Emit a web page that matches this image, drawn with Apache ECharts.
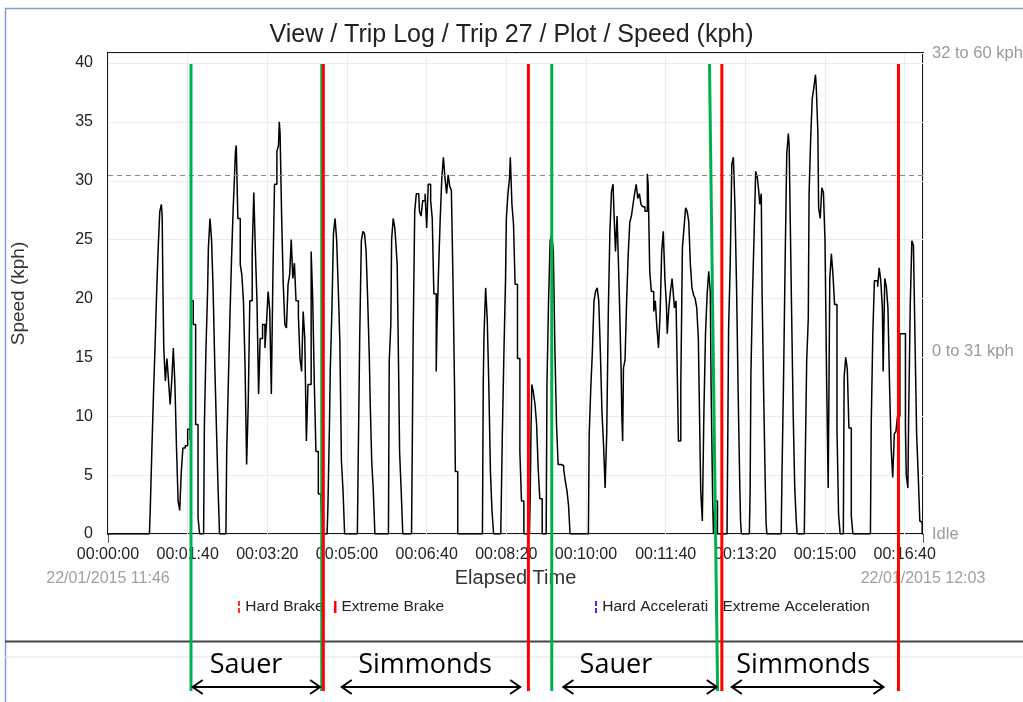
<!DOCTYPE html>
<html>
<head>
<meta charset="utf-8">
<title>Trip 27 speed</title>
<script src="https://cdn.jsdelivr.net/npm/echarts@6/dist/echarts.min.js"></script>
<style>
  html, body { margin: 0; padding: 0; background: #fff; }
  #chart { width: 1023px; height: 702px; }
</style>
</head>
<body>
<div id="chart"></div>
<script>
// elapsed seconds / speed in kph
const speedTrace = [
  [0,0],[52,0],[53,2],[55,7],[57,11.7],[59,15.8],[61,20.4],[63,24.3],[65,27.4],[67,28],[68,27],[69,20.6],[70,15.8],[72,13],[74,14.9],[76,13],[78,11],[80,13],[82,15.8],[84,12.7],[86,7.3],[88,2.8],[90,2],[92,5.3],[94,7.3],[97,7.5],[100,8.9],[103,8],[104,19.8],[107,17.8],[110,9.3],[113,1.4],[115,0],
  [120,0],[121,9.3],[123,15.8],[125,20.6],[126,24.3],[128,26.8],[130,25],[132,20.6],[134,14.4],[136,9.3],[138,4.2],[140,0],
  [148,0],[149,7],[151,12.7],[153,18.3],[155,23.2],[157,27.4],[159,30.8],[160,32.5],[161,33],[163,26.8],[166,22.9],[168,22],[170,19.8],[172,14.4],[174,5.9],[176,11],[178,19.8],[181,24],[183,29],[185,24],[187,19.8],[189,11.9],[191,16.6],[194,17.8],[197,15.8],[199,18],[201,20.6],[203,19],[205,11.9],[207,22],[209,29.7],[212,32.5],[214,33],[215,35],[216,34],[218,26.8],[220,21.2],[222,17.8],[224,17.5],[226,21.2],[228,22],[230,25],[232,21.7],[234,23],[236,19.8],[239,18.5],[241,14.9],[243,13.8],[245,18.9],[247,16.6],[249,7.9],[251,12.7],[255,24],[257,19.8],[259,12.7],[261,7],[264,3.4],[267,3.4],[269,0],
  [275,0],[276,2.2],[278,9.3],[279,14],[281,18.9],[283,25.5],[285,26.8],[287,25],[289,20.9],[291,16.4],[293,6.2],[295,3.7],[297,0],
  [313,0],[314,6],[315,11.3],[316,17],[318,24.9],[320,25.7],[322,25.5],[324,24],[326,19.8],[328,15],[329,11.5],[331,6.2],[333,3.7],[335,0],
  [352,0],[353,14.7],[355,17.8],[356,25],[358,26.8],[360,26],[361,25],[363,22.9],[365,12.7],[366,7],[368,3.7],[370,0],
  [381,0],[382,8],[383,16.6],[385,27.4],[387,28.9],[390,28.9],[391,27.4],[393,27],[395,28.3],[398,28.9],[400,26],[402,29.7],[404,29.7],[405,28.3],[407,26.8],[409,20.4],[412,13.8],[413,17.8],[415,22.6],[417,26.8],[419,30.2],[421,32],[423,30.2],[425,28.9],[427,30.5],[429,29.5],[431,29.2],[433,21.7],[435,12.4],[436,5.3],[439,0],
  [470,0],[471,12.7],[472,17],[474,20.9],[476,18.3],[478,12.7],[480,5.3],[482,2],[484,0],
  [493,0],[495,8.5],[497,15.5],[499,21.7],[500,26.8],[502,28.9],[504,30.2],[505,32],[507,28],[509,26.3],[511,21.2],[514,14.9],[517,7],[519,2.8],[522,0],
  [529,0],[530,3.4],[531,9],[532,12.7],[534,12],[536,11],[538,9.3],[540,5.5],[542,3],[545,0],
  [550,0],[551,12.7],[553,19.8],[555,24.9],[557,25.5],[559,24],[561,15.5],[563,9.3],[565,5.9],[569,5.8],[572,5.5],[574,4.5],[576,3.7],[578,2.5],[580,0],
  [603,0],[604,8.5],[606,12.4],[608,15.5],[610,19.8],[612,20.6],[614,20.9],[616,19.8],[618,15.5],[620,10.4],[622,7.6],[624,3.9],
  [626,8.5],[628,18.9],[630,25.7],[632,29.1],[634,29.7],[635,27.5],[637,24],[639,27],[641,22.3],[642,19.8],[644,14.1],[645,9.9],[646,7.9],[647,14.1],[649,14.8],[651,19.8],[653,23.8],[655,26.5],[657,27],[659,28],[661,28.9],[663,29.7],[665,28.5],[667,28.9],[669,28],[671,27.8],[674,27.4],
  [677,30.6],[678,29.7],[680,22.3],[682,20.6],[685,18.9],[687,19.8],[689,17.5],[691,15.8],[693,18.7],[695,24],[697,25.7],[699,21.7],[701,19.4],[702,17],[704,19.2],[706,20.6],[708,21.7],[709,20.9],[711,19.2],[713,19.8],[715,11.9],[716,7.9],
  [719,12.7],[721,24.3],[723,26],[725,27.7],[727,27.4],[729,26.5],[731,22.9],[733,20.9],[735,20.3],[737,20],[739,19.2],[741,16.6],[743,7.9],[744,3.7],[746,1.1],[748,10.4],[750,17],[752,20.3],[754,22.3],[756,20.6],[757,12.7],[759,2.8],[760,0],[762,2.8],[764,2.8],[765,0],
  [777,0],[778,8.5],[779,17.5],[781,22.9],[783,31.4],[785,32],[787,27.7],[789,20.9],[791,11.9],[793,4.2],[794,1.1],[795,0],
  [805,0],[806,3.7],[807,13.6],[809,20.4],[811,25.5],[813,30.8],[815,30.3],[817,29],[818,28],[820,28.9],[821,20.6],[823,11.9],[825,4.2],[826,1],[827,0],
  [845,0],[846,5.1],[848,13.3],[850,23.4],[852,32.3],[854,34],[855,33],[856,28.3],[858,19.2],[860,10.4],[862,3.9],[864,1],[865,0],
  [874,0],[875,5.3],[877,14.7],[879,18.3],[880,28.9],[882,33.6],[884,37],[886,37.9],[888,39],[889,38],[891,34.2],[892,27.7],[894,26.8],[896,29.4],[898,29],[900,24.9],[902,13.3],[904,3.9],[906,21.7],[908,23.8],[910,22],[912,19.5],[915,9],[917,1.7],[919,0],[923,0],[924,13.3],[926,15],[928,14],[930,9],[933,1.5],[935,0],
  [957,0],[958,9.3],[960,17],[962,21.5],[964,21.5],[966,21],[968,22.6],[970,21.5],[972,19.2],[973,13.8],[975,21.7],[977,21],[979,19.2],[981,12.7],[983,7.3],[985,4.8],[987,8.5],[989,8.7],[991,10],[994,17],[997,17],[999,17],[1001,9],[1002,5],[1004,3.9],[1005,10],[1007,19.5],[1009,24.9],[1011,24.5],[1013,16.4],[1015,8.5],[1017,5],[1019,1.1],[1021,1],[1022,0],[1023,0]
];

const tickLabels = ['00:00:00','00:01:40','00:03:20','00:05:00','00:06:40','00:08:20','00:10:00','00:11:40','00:13:20','00:15:00','00:16:40'];
const tripStart = '22/01/2015 11:46';
const tripEnd = '22/01/2015 12:03';
const tripLength = 1023; // seconds
const bandTicks = [0, 15.5, 40.85];
const bandLabels = ['Idle', '0 to 31 kph', '32 to 60 kph'];
const thresholdKph = 30.5;

// driver change markers (seconds at top / bottom of the drawn line)
const markerTop    = [104.2, 268.3, 270.3, 527.7, 557, 755, 770.5, 992.2];
const markerBottom = [104.2, 268.3, 270.3, 527.7, 557, 765.2, 770.5, 992.2];
const markerKind   = ['start','start','end','end','start','start','end','end'];

// driver spans under the chart
const spanFrom    = [106.3, 293.4, 571.6, 783];
const spanTo      = [266.2, 517.3, 764.2, 973.4];
const spanLabelAt = [173.3, 398, 637.5, 872.6];
const spanDriver  = ['Sauer', 'Simmonds', 'Sauer', 'Simmonds'];

const FONT = 'Liberation Sans';

function renderMarker(params, api) {
  const i = params.dataIndex;
  const top = api.coord([markerTop[i], 1]);
  const bottom = api.coord([markerBottom[i], 0]);
  return {
    type: 'line',
    shape: { x1: top[0], y1: top[1], x2: bottom[0], y2: bottom[1] },
    style: { stroke: markerKind[i] === 'end' ? '#ff0000' : '#00b050', lineWidth: 3 }
  };
}

function renderSpan(params, api) {
  const i = params.dataIndex;
  const a = api.coord([spanFrom[i], 0]);
  const b = api.coord([spanTo[i], 0]);
  const c = api.coord([spanLabelAt[i], 0]);
  const y = a[1] - 4;
  const head = 10, half = 7;
  const pen = { stroke: '#000', lineWidth: 2, fill: null };
  return {
    type: 'group',
    children: [
      { type: 'line', shape: { x1: a[0], y1: y, x2: b[0], y2: y }, style: pen },
      { type: 'polyline', shape: { points: [[a[0] + head, y - half], [a[0], y], [a[0] + head, y + half]] }, style: pen },
      { type: 'polyline', shape: { points: [[b[0] - head, y - half], [b[0], y], [b[0] - head, y + half]] }, style: pen },
      { type: 'text', style: { text: spanDriver[i], x: c[0], y: y - 22, align: 'center', verticalAlign: 'middle',
        fontFamily: 'Open Sans', fontSize: 27, fill: '#000' } }
    ]
  };
}

const legendText = { fontFamily: FONT, fontSize: 15.5, color: '#222' };
const dashIcon = 'path://M0,0h2v5h-2zM0,7h2v5h-2z';

const option = {
  animation: false,
  title: {
    text: 'View / Trip Log / Trip 27 / Plot / Speed (kph)',
    left: 'center', top: 18,
    textStyle: { fontFamily: FONT, fontSize: 25, fontWeight: 'normal', color: '#222' }
  },
  legend: [
    { left: 233, top: 594, itemWidth: 2.5, itemHeight: 12, selectedMode: false, textStyle: legendText,
      data: [{ name: 'Hard Brake', icon: dashIcon }] },
    { left: 329, top: 594, itemWidth: 2.5, itemHeight: 12, selectedMode: false, textStyle: legendText,
      data: [{ name: 'Extreme Brake', icon: 'rect' }] },
    { left: 590, top: 594, itemWidth: 2.5, itemHeight: 12, selectedMode: false,
      textStyle: Object.assign({ width: 114, overflow: 'truncate', ellipsis: '' }, legendText),
      data: [{ name: 'Hard Acceleration', icon: dashIcon }] },
    { left: 710, top: 594, itemWidth: 2.5, itemHeight: 12, selectedMode: false, textStyle: legendText,
      data: [{ name: 'Extreme Acceleration', icon: 'rect' }] }
  ],
  grid: [
    { left: 108, right: 100, top: 53, bottom: 168, show: true, borderColor: '#1a1a1a', borderWidth: 2,
      containLabel: false, outerBoundsMode: 'none' },
    { left: 108, right: 100, top: 64, bottom: 11, containLabel: false, outerBoundsMode: 'none' }
  ],
  xAxis: [
    { gridIndex: 0, type: 'value', min: 0, max: tripLength, interval: 100,
      axisLine: { show: false }, axisTick: { show: false },
      splitLine: { show: true, lineStyle: { color: '#e9eef6', width: 1 } },
      axisLabel: { formatter: v => (v % 100 === 0 ? tickLabels[v / 100] : ''), color: '#222',
        fontFamily: FONT, fontSize: 16, margin: 13 },
      name: 'Elapsed Time', nameLocation: 'middle', nameGap: 34,
      nameTextStyle: { fontFamily: FONT, fontSize: 20, color: '#333' } },
    { gridIndex: 0, type: 'value', min: 0, max: tripLength, interval: tripLength, position: 'bottom',
      axisLine: { show: false }, axisTick: { show: true, length: 9, lineStyle: { color: '#555' } },
      splitLine: { show: false },
      axisLabel: { formatter: v => (v === 0 ? tripStart : (v === tripLength ? tripEnd : '')),
        color: '#a0a0a0', fontFamily: FONT, fontSize: 16, margin: 37 } },
    { gridIndex: 1, type: 'value', min: 0, max: tripLength, show: false }
  ],
  yAxis: [
    { gridIndex: 0, type: 'value', min: 0, max: 40.85, interval: 5,
      axisLine: { show: false }, axisTick: { show: false },
      splitLine: { show: true, lineStyle: { color: '#e9eef6', width: 1 } },
      axisLabel: { formatter: v => (v % 5 === 0 ? String(v) : ''), color: '#222',
        fontFamily: FONT, fontSize: 16, margin: 15 },
      name: 'Speed (kph)', nameLocation: 'middle', nameGap: 80,
      nameTextStyle: { fontFamily: FONT, fontSize: 19, color: '#333' } },
    { gridIndex: 0, type: 'value', position: 'right', min: 0, max: 40.85, interval: 15.5,
      axisLine: { show: false }, axisTick: { show: false }, splitLine: { show: false },
      axisLabel: { color: '#9a9a9a', fontFamily: FONT, fontSize: 16.5, margin: 9,
        formatter: v => {
          const k = bandTicks.findIndex(b => Math.abs(b - v) < 0.01);
          return k < 0 ? '' : bandLabels[k];
        } } },
    { gridIndex: 1, type: 'value', min: 0, max: 1, show: false }
  ],
  graphic: [
    { type: 'line', z: 0, shape: { x1: 5, y1: 8.5, x2: 1023, y2: 8.5 }, style: { stroke: '#7f9fd6', lineWidth: 1.5 } },
    { type: 'line', z: 0, shape: { x1: 5.5, y1: 8, x2: 5.5, y2: 702 }, style: { stroke: '#7f9fd6', lineWidth: 1.5 } },
    { type: 'line', z: 0, shape: { x1: 5, y1: 641.5, x2: 1023, y2: 641.5 }, style: { stroke: '#444', lineWidth: 2 } },
    { type: 'line', z: 0, shape: { x1: 5, y1: 657, x2: 1023, y2: 657 }, style: { stroke: '#e2e2e2', lineWidth: 1 } }
  ],
  series: [
    { name: 'Speed', type: 'line', xAxisIndex: 0, yAxisIndex: 0, data: speedTrace, step: 'end',
      showSymbol: false, symbol: 'none', lineStyle: { color: '#000', width: 1.5 },
      markLine: { silent: true, symbol: 'none', label: { show: false },
        lineStyle: { color: '#888', type: [5, 4], width: 1.2 },
        data: [{ yAxis: thresholdKph }] } },
    { name: 'Markers', type: 'custom', xAxisIndex: 2, yAxisIndex: 2, z: 5, clip: false,
      data: markerTop.map((t, i) => [t, markerBottom[i]]), encode: { x: [0, 1] },
      renderItem: renderMarker },
    { name: 'Drivers', type: 'custom', xAxisIndex: 2, yAxisIndex: 2, z: 6, clip: false,
      data: spanFrom.map((f, i) => [f, spanTo[i]]), encode: { x: [0, 1] },
      renderItem: renderSpan },
    { name: 'Hard Brake', type: 'line', data: [], itemStyle: { color: '#ff3030' }, lineStyle: { color: '#ff3030' } },
    { name: 'Extreme Brake', type: 'line', data: [], itemStyle: { color: '#ff0000' }, lineStyle: { color: '#ff0000' } },
    { name: 'Hard Acceleration', type: 'line', data: [], itemStyle: { color: '#3030ff' }, lineStyle: { color: '#3030ff' } },
    { name: 'Extreme Acceleration', type: 'line', data: [], itemStyle: { color: '#0000ff' }, lineStyle: { color: '#0000ff' } }
  ]
};

const myChart = echarts.init(document.getElementById('chart'));
myChart.setOption(option);
</script>
</body>
</html>
